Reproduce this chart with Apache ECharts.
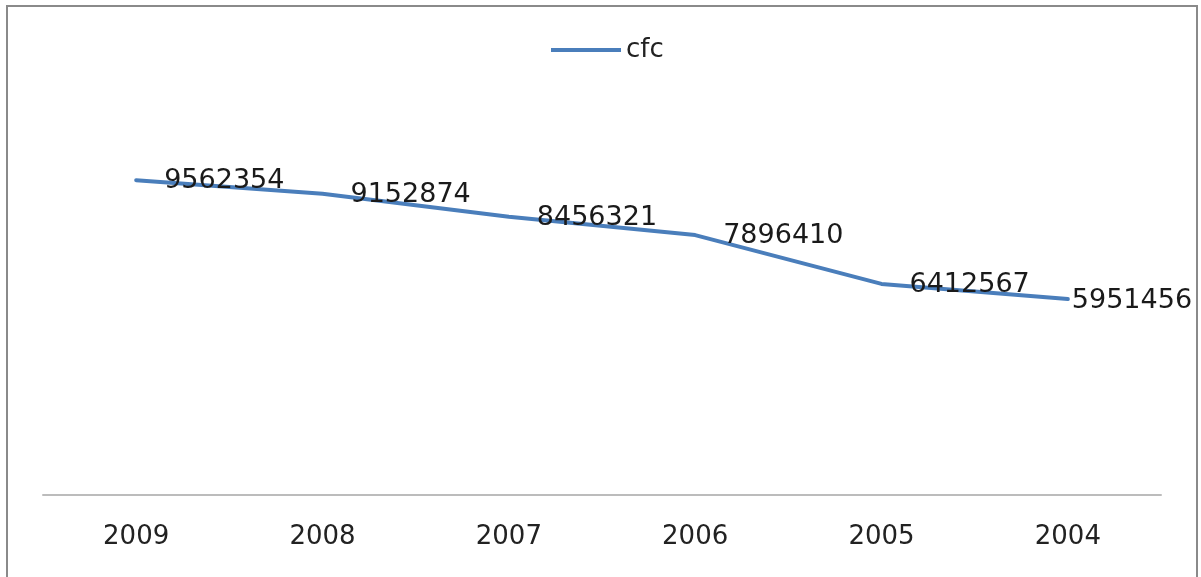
<!DOCTYPE html>
<html>
<head>
<meta charset="utf-8">
<script src="https://cdn.jsdelivr.net/npm/echarts@6/dist/echarts.min.js"></script>
<style>
html,body{margin:0;padding:0;background:#fff;}
#chart{width:1201px;height:577px;}
</style>
</head>
<body>
<div id="chart"></div>
<script>
const categories = ['2009', '2008', '2007', '2006', '2005', '2004'];
const cfcValues = [9562354, 9152874, 8456321, 7896410, 6412567, 5951456];
const seriesName = 'cfc';

const chart = echarts.init(document.getElementById('chart'));
const dataItems = cfcValues.map((v, i) => {
  if (i === cfcValues.length - 1) {
    return { value: v, label: { distance: 3, offset: [0, 2] } };
  }
  return { value: v };
});

chart.setOption({
  animation: false,
  backgroundColor: '#ffffff',
  textStyle: { fontFamily: 'DejaVu Sans' },
  graphic: [{
    type: 'rect',
    shape: { x: 7, y: 6, width: 1190, height: 620 },
    style: { fill: 'none', stroke: '#8a8a8a', lineWidth: 2 },
    silent: true
  }],
  legend: {
    top: 32,
    left: 546,
    data: [seriesName],
    itemWidth: 70,
    itemHeight: 4,
    itemGap: 10,
    icon: 'rect',
    itemStyle: { color: '#4a7ebb', opacity: 1 },
    textStyle: { fontSize: 26, color: '#222', fontFamily: 'DejaVu Sans' }
  },
  grid: { left: 43, right: 40, top: 100, bottom: 82 },
  xAxis: {
    type: 'category',
    data: categories,
    boundaryGap: true,
    axisLine: { lineStyle: { color: '#bcbcbc', width: 2 } },
    axisTick: { show: false },
    axisLabel: { fontSize: 26, color: '#222', margin: 29, fontFamily: 'DejaVu Sans' }
  },
  yAxis: {
    type: 'value',
    min: 0,
    max: 12000000,
    show: false,
    splitLine: { show: false }
  },
  series: [{
    name: seriesName,
    type: 'line',
    data: dataItems,
    showSymbol: true,
    symbol: 'circle',
    symbolSize: 2,
    lineStyle: { color: '#4a7ebb', width: 4, join: 'round', cap: 'round' },
    itemStyle: { color: '#4a7ebb' },
    label: {
      show: true,
      position: 'right',
      distance: 27,
      fontSize: 27,
      color: '#1a1a1a',
      fontFamily: 'DejaVu Sans',
      offset: [0, 1]
    }
  }]
});
</script>
</body>
</html>
